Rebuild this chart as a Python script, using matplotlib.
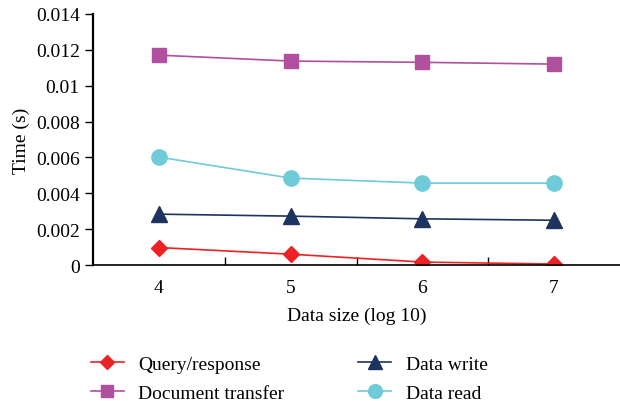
import matplotlib
matplotlib.use("Agg")
import matplotlib.pyplot as plt

x = [4, 5, 6, 7]
query = [0.00098, 0.00061, 0.00017, 0.00006]
doc = [0.0117, 0.01137, 0.01130, 0.01120]
write = [0.00284, 0.00273, 0.00258, 0.00250]
read = [0.00602, 0.00485, 0.00457, 0.00457]
yticks = [0, 0.002, 0.004, 0.006, 0.008, 0.01, 0.012, 0.014]
ylabels = ["0", "0.002", "0.004", "0.006", "0.008", "0.01", "0.012", "0.014"]

plt.rcParams['font.family'] = ['Liberation Serif', 'DejaVu Serif']
fig = plt.figure(figsize=(6.2, 4.02), dpi=100)
ax = fig.add_axes([0.15, 0.338, 0.85, 0.625])

h1, = ax.plot(x, query, color='#ee2224', marker='D', markersize=8, lw=1.2, label='Query/response')
h2, = ax.plot(x, doc, color='#b0509e', marker='s', markersize=10, lw=1.2, label='Document transfer')
h3, = ax.plot(x, write, color='#1d3461', marker='^', markersize=11, lw=1.2, label='Data write')
h4, = ax.plot(x, read, color='#6fcbd9', marker='o', markersize=11, lw=1.2, label='Data read')

ax.set_xlim(3.5, 7.5)
ax.set_ylim(0, 0.014)
ax.set_yticks(yticks)
ax.set_yticklabels(ylabels)
ax.set_xticks(x)
ax.set_xticklabels([str(v) for v in x])
ax.tick_params(axis='x', length=0, labelsize=14, pad=10)
ax.set_xticks([4.5, 5.5, 6.5], minor=True)
ax.tick_params(axis='x', which='minor', direction='in', length=6, width=1)
ax.tick_params(axis='y', direction='out', length=6, width=1, labelsize=14)
for s in ['top', 'right']:
    ax.spines[s].set_visible(False)
ax.spines['left'].set_linewidth(1.6)
ax.spines['bottom'].set_linewidth(1.2)
ax.set_xlabel('Data size (log 10)', fontsize=14, labelpad=8)
ax.set_ylabel('Time (s)', fontsize=14, labelpad=4)

fig.legend(handles=[h1, h2, h3, h4], ncol=2, loc='lower left', bbox_to_anchor=(0.118, -0.045),
           frameon=False, fontsize=14, handlelength=1.7, columnspacing=3.8,
           labelspacing=0.55, handletextpad=0.75, markerscale=0.9)

fig.savefig('out.png', dpi=100)
